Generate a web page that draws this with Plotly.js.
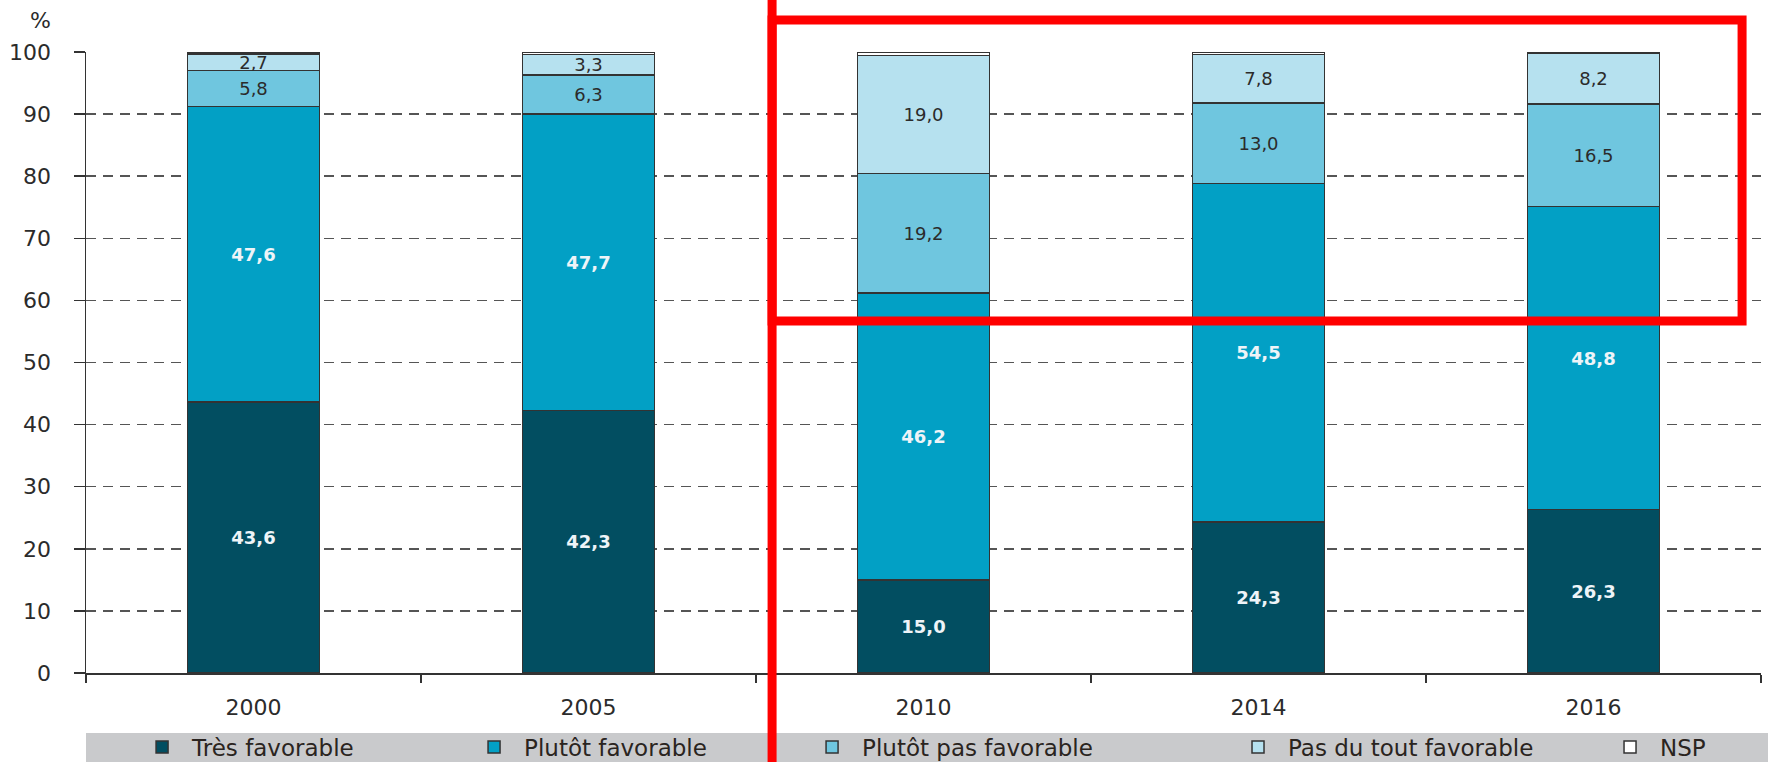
<!DOCTYPE html>
<html>
<head>
<meta charset="utf-8">
<script src="https://cdn.plot.ly/plotly-3.0.1.min.js"></script>
<style>
  html, body { margin: 0; padding: 0; background: #fff; }
  #chart { width: 1768px; height: 762px; }
</style>
</head>
<body>
<div id="chart"></div>
<script>
// ======================== Data =========================
const years = ["2000", "2005", "2010", "2014", "2016"];
const tresFav   = [43.6, 42.3, 15.0, 24.3, 26.3];
const plutotFav = [47.6, 47.7, 46.2, 54.5, 48.8];
const plutotPas = [5.8, 6.3, 19.2, 13.0, 16.5];
const pasDuTout = [2.7, 3.3, 19.0, 7.8, 8.2];
const nsp       = [0.3, 0.4, 0.6, 0.4, 0.2];

const seriesNames  = ["Très favorable", "Plutôt favorable", "Plutôt pas favorable", "Pas du tout favorable", "NSP"];
const seriesValues = [tresFav, plutotFav, plutotPas, pasDuTout, nsp];
const seriesColors = ["#024e61", "#02a0c5", "#6fc6df", "#b6e1ef", "#ffffff"];
const labelColors  = ["#eef4f8", "#eef4f8", "#2b2b2b", "#2b2b2b", "#2b2b2b"];
const labelWeights = ["bold", "bold", "normal", "normal", "normal"];
// une légende par série, pour placer chaque entrée comme dans la bande grise
const legendIds = ["legend", "legend2", "legend3", "legend4", "legend5"];
const legendX   = [0.0275, 0.2257, 0.4275, 0.6818, 0.9039];

const fontFam = "DejaVu Sans, Liberation Sans, Arial, sans-serif";

// virgule décimale
const fmt = v => v.toFixed(1).replace(".", ",");

const data = seriesValues.map((vals, i) => ({
  x: years,
  y: vals,
  name: seriesNames[i],
  legend: legendIds[i],
  type: "bar",
  marker: { color: seriesColors[i], line: { color: "#333", width: 1.5 } },
  text: i === 4 ? vals.map(() => "") : vals.map(fmt),
  textposition: i === 4 ? "none" : "inside",
  insidetextanchor: "middle",
  constraintext: "none",
  textfont: { family: fontFam, size: 18, weight: labelWeights[i], color: labelColors[i] },
  hoverinfo: "skip"
}));

// ======================== Layout =========================
const red = "#ff0000";
const legendBase = {
  orientation: "h", y: -0.1192, xanchor: "left", yanchor: "middle",
  bgcolor: "rgba(0,0,0,0)", itemwidth: 50,
  font: { family: fontFam, size: 23, color: "#2a2420" }
};

const layout = {
  width: 1768, height: 762,
  margin: { l: 86, r: 7, t: 52, b: 89, pad: 0, autoexpand: false },
  paper_bgcolor: "#fff", plot_bgcolor: "#fff",
  barmode: "stack",
  bargap: 0.606,
  font: { family: fontFam, size: 22, color: "#2b2b2b" },
  showlegend: true,
  xaxis: {
    type: "category",
    tickson: "boundaries",
    ticks: "outside", ticklen: 8, tickcolor: "#333", tickwidth: 1.5,
    showline: true, linecolor: "#333", linewidth: 1.5,
    showgrid: false,
    ticklabelstandoff: 14,
    tickfont: { family: fontFam, size: 22, color: "#2b2b2b" }
  },
  yaxis: {
    range: [0, 100], dtick: 10,
    ticks: "outside", ticklen: 11, tickcolor: "#333", tickwidth: 1.5,
    showline: true, linecolor: "#333", linewidth: 1.5,
    showgrid: true, gridcolor: "#555", gridwidth: 1.5, griddash: "10px,7px",
    zeroline: false,
    ticklabelstandoff: 18,
    tickfont: { family: fontFam, size: 22, color: "#2b2b2b" }
  },
  annotations: [{
    text: "%", xref: "paper", yref: "paper", x: -0.0197, y: 1, yshift: 32,
    xanchor: "right", yanchor: "middle", showarrow: false,
    font: { family: fontFam, size: 22, color: "#2b2b2b" }
  }],
  shapes: [
    // bande grise de la légende
    { type: "rect", xref: "paper", yref: "paper", x0: 0, x1: 1.0042, y0: -0.1433, y1: -0.0966,
      fillcolor: "#c9cacc", line: { width: 0 }, layer: "below" },
    // encadré rouge
    { type: "line", xref: "paper", yref: "paper", x0: 0.4096, x1: 0.4096, y0: -0.1433, y1: 1.0837,
      line: { color: red, width: 9 }, layer: "above" },
    { type: "rect", xref: "paper", yref: "paper", x0: 0.4096, x1: 0.9887, y0: 0.5668, y1: 1.0515,
      line: { color: red, width: 9 }, fillcolor: "rgba(0,0,0,0)", layer: "above" }
  ]
};
legendIds.forEach((id, i) => { layout[id] = Object.assign({}, legendBase, { x: legendX[i] }); });

Plotly.newPlot("chart", data, layout, { displayModeBar: false, staticPlot: true });
</script>
</body>
</html>
